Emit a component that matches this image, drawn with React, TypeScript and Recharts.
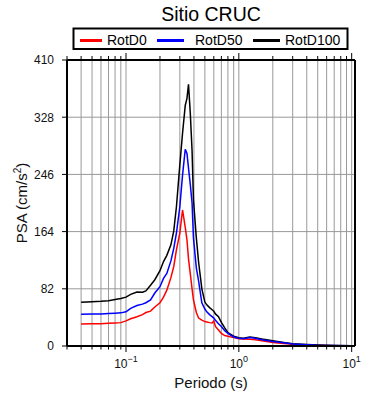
import { CartesianGrid, Legend, Line, LineChart, XAxis, YAxis } from "recharts";

const periods = [
  0.04, 0.05, 0.06, 0.07, 0.08, 0.09, 0.1, 0.11, 0.125, 0.14, 0.15, 0.165, 0.18, 0.2, 0.215, 0.23, 0.25, 0.265,
  0.28, 0.3, 0.317, 0.335, 0.347, 0.358, 0.371, 0.385, 0.396, 0.42, 0.44, 0.47, 0.5, 0.52, 0.55, 0.58, 0.6, 0.62,
  0.66, 0.7, 0.75, 0.8, 0.9, 1.0, 1.1, 1.25, 1.4, 1.6, 2, 2.5, 3, 4, 5, 7, 10,
];

const rotD0 = [
  31.5, 31.8, 32, 32.5, 33, 33.5, 36, 39, 42, 45, 48, 50, 56, 62, 70, 80, 98, 114,
  138, 162, 195, 170, 152, 125, 104, 82, 66, 48, 40, 37, 35, 34.5, 33.5, 33, 36, 28,
  23, 18, 15, 14, 12, 10.5, 10, 9.5, 9, 7.5, 5, 3.5, 2.5, 1.5, 1, 0.5, 0.3,
];

const rotD50 = [
  45.4, 45.8, 46, 46.5, 47, 47.5, 49, 54, 58, 60, 62, 66, 76, 85, 97, 104, 122, 140,
  162, 200, 245, 282, 276, 255, 232, 205, 155, 112, 93, 62, 53, 49, 45, 42, 40, 37,
  32, 28, 22, 18, 13, 11, 10.5, 12, 11, 9, 6.5, 4.5, 3, 1.8, 1.1, 0.6, 0.3,
];

const rotD100 = [
  62.6, 63.5, 64, 65, 66.5, 68, 70, 74, 77.5, 77, 79, 87, 95, 108, 121, 130, 145, 165,
  200, 260, 305, 345, 355, 375, 335, 280, 210, 155, 120, 82, 63, 59, 55, 52, 50, 46,
  42, 34, 26, 19, 14, 12, 11, 13, 12, 10, 7.5, 5, 3.2, 2, 1.3, 0.7, 0.4,
];

const xTicks = [
  0.03, 0.04, 0.05, 0.06, 0.07, 0.08, 0.09, 0.1, 0.2, 0.3, 0.4, 0.5, 0.6, 0.7, 0.8, 0.9, 1, 2, 3, 4, 5, 6, 7, 8, 9, 10,
];
const yTicks = [0, 82, 164, 246, 328, 410];

const series = [
  { key: "rotD0", name: "RotD0", color: "#ff0000" },
  { key: "rotD50", name: "RotD50", color: "#0000ff" },
  { key: "rotD100", name: "RotD100", color: "#000000" },
];

const data = periods.map((p, i) => ({
  period: p,
  rotD0: rotD0[i],
  rotD50: rotD50[i],
  rotD100: rotD100[i],
}));

const FONT = '"Liberation Sans", Arial, Helvetica, sans-serif';

function decade(v: number) {
  const e = Math.round(Math.log10(v));
  return Math.abs(Math.log10(v) - e) < 1e-6 ? e : null;
}

function BottomTick({ x, y, payload }: any) {
  const e = decade(payload.value);
  return (
    <g>
      <line x1={x} x2={x} y1={y} y2={y + (e !== null ? 6 : 3.5)} stroke="#000" strokeWidth={1} />
      {e !== null && (
        <text x={x} y={y + 22} textAnchor="middle" fontSize={12} fill="#111" fontFamily={FONT}>
          <tspan>10</tspan>
          <tspan dy={-6} fontSize={9}>
            {e < 0 ? `\u2212${-e}` : `${e}`}
          </tspan>
        </text>
      )}
    </g>
  );
}

function TopTick({ x, y, payload }: any) {
  const e = decade(payload.value);
  return <line x1={x} x2={x} y1={y} y2={y - (e !== null ? 7 : 4)} stroke="#000" strokeWidth={1} />;
}

function LeftTick({ x, y, payload }: any) {
  return (
    <g>
      <line x1={x - 5} x2={x} y1={y} y2={y} stroke="#000" strokeWidth={1} />
      <text x={x - 13} y={y + 4.3} textAnchor="end" fontSize={12} fill="#111" fontFamily={FONT}>
        {payload.value}
      </text>
    </g>
  );
}

function RightTick({ x, y }: any) {
  return <line x1={x} x2={x + 5} y1={y} y2={y} stroke="#000" strokeWidth={1} />;
}

function Header() {
  const items = [
    { ...series[0], x1: 80, x2: 102, tx: 107 },
    { ...series[1], x1: 157, x2: 184, tx: 195 },
    { ...series[2], x1: 253, x2: 280, tx: 285 },
  ];
  return (
    <svg width={390} height={52} style={{ display: "block" }}>
      <text x={211} y={21} textAnchor="middle" fontSize={19.5} fill="#000" fontFamily={FONT}>
        Sitio CRUC
      </text>
      <rect x={73.5} y={28.5} width={274} height={20.5} fill="#fff" stroke="#000" strokeWidth={2} />
      {items.map((it) => (
        <g key={it.key}>
          <line x1={it.x1} x2={it.x2} y1={40.5} y2={40.5} stroke={it.color} strokeWidth={3} />
          <text x={it.tx} y={45} fontSize={14} fill="#000" fontFamily={FONT}>
            {it.name}
          </text>
        </g>
      ))}
    </svg>
  );
}

export default function App() {
  return (
    <div style={{ width: 390, height: 400, background: "#fff", fontFamily: FONT }}>
      <style>{`body{margin:0}`}</style>
      <LineChart width={390} height={400} data={data} margin={{ top: 50, right: 0, bottom: 0, left: 0 }}>
        <CartesianGrid xAxisId="bottom" yAxisId="left" stroke="#999" strokeWidth={1} />
        <XAxis
          xAxisId="bottom"
          dataKey="period"
          type="number"
          scale="log"
          domain={[0.03, 10.7]}
          allowDataOverflow
          ticks={xTicks}
          interval={0}
          height={54}
          tickSize={0}
          tickMargin={0}
          tickLine={false}
          axisLine={{ stroke: "#000", strokeWidth: 2 }}
          tick={(p: any) => <BottomTick {...p} />}
          label={{
            content: () => (
              <text x={211} y={388} textAnchor="middle" fontSize={15} fill="#111" fontFamily={FONT}>
                Periodo (s)
              </text>
            ),
          }}
        />
        <XAxis
          xAxisId="top"
          orientation="top"
          dataKey="period"
          type="number"
          scale="log"
          domain={[0.03, 10.7]}
          allowDataOverflow
          ticks={xTicks}
          interval={0}
          height={10}
          tickSize={0}
          tickMargin={0}
          tickLine={false}
          axisLine={{ stroke: "#000", strokeWidth: 2 }}
          tick={(p: any) => <TopTick {...p} />}
        />
        <YAxis
          yAxisId="left"
          type="number"
          domain={[0, 410]}
          ticks={yTicks}
          interval={0}
          width={67}
          tickSize={0}
          tickMargin={0}
          tickLine={false}
          axisLine={{ stroke: "#000", strokeWidth: 2 }}
          tick={(p: any) => <LeftTick {...p} />}
          label={{
            content: () => (
              <text
                x={27}
                y={203}
                transform="rotate(-90 27 203)"
                textAnchor="middle"
                fontSize={15}
                fill="#111"
                fontFamily={FONT}
              >
                PSA (cm/s
                <tspan dy={-6} fontSize={10}>
                  2
                </tspan>
                <tspan dy={6}>)</tspan>
              </text>
            ),
          }}
        />
        <YAxis
          yAxisId="right"
          orientation="right"
          type="number"
          domain={[0, 410]}
          ticks={yTicks}
          interval={0}
          width={35}
          tickSize={0}
          tickMargin={0}
          tickLine={false}
          axisLine={{ stroke: "#000", strokeWidth: 2 }}
          tick={(p: any) => <RightTick {...p} />}
        />
        <Legend
          layout="horizontal"
          verticalAlign="middle"
          align="center"
          wrapperStyle={{ top: 0, left: 0, width: 390, height: 52 }}
          content={() => <Header />}
        />
        {[series[0], series[2], series[1]].map((s) => (
          <Line
            key={s.key}
            xAxisId="bottom"
            yAxisId="left"
            type="linear"
            dataKey={s.key}
            name={s.name}
            stroke={s.color}
            strokeWidth={1.5}
            dot={false}
            isAnimationActive={false}
          />
        ))}
      </LineChart>
    </div>
  );
}
